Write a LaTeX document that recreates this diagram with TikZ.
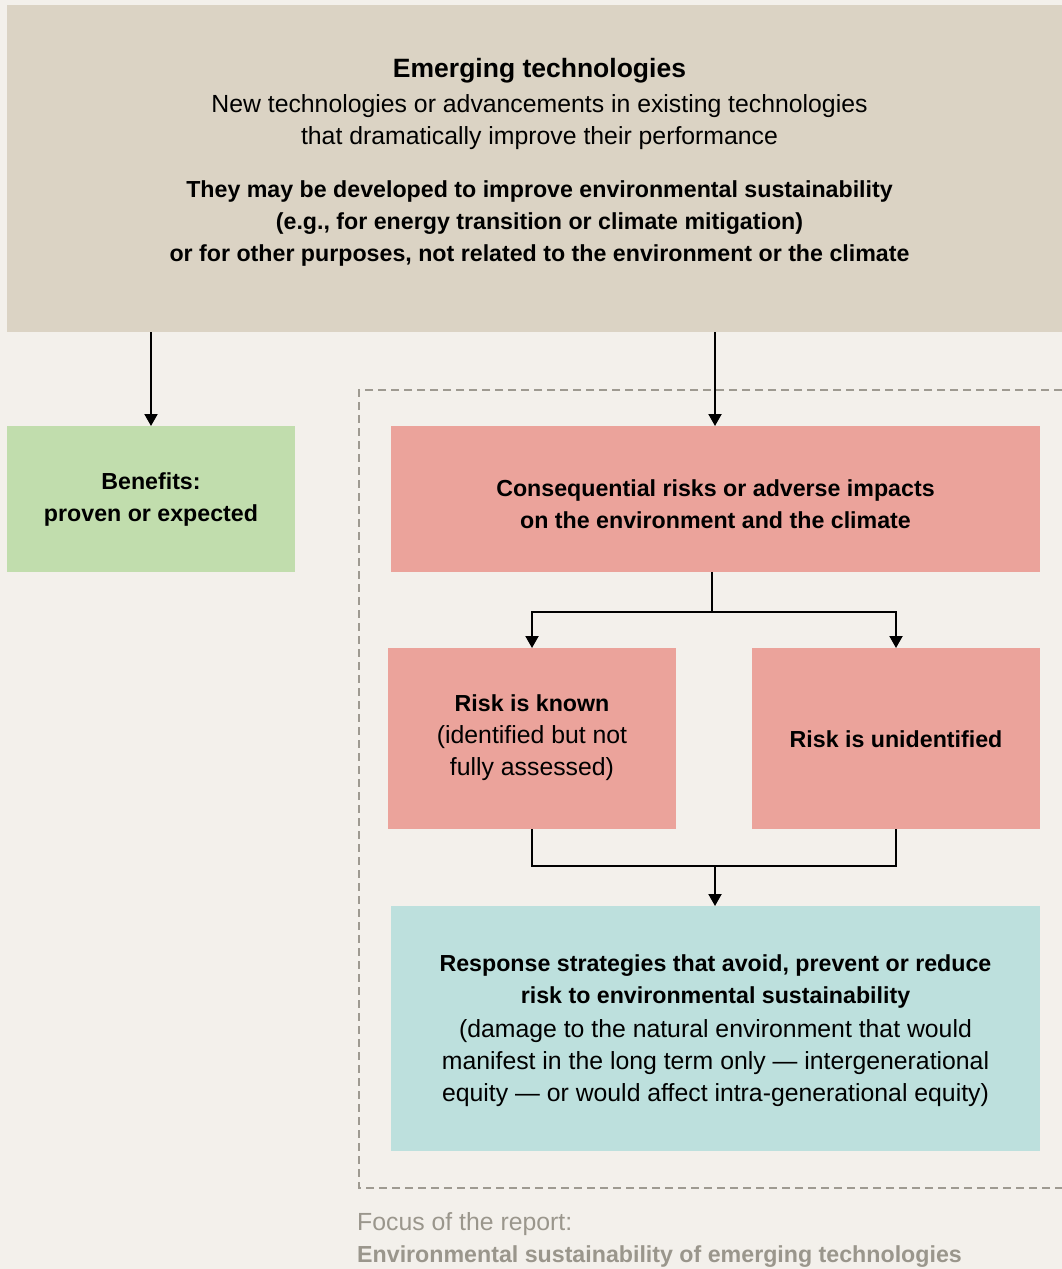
\documentclass[tikz,border=0pt]{standalone}
\usepackage{fontspec}
\setmainfont{Liberation Sans}
\usetikzlibrary{arrows.meta}
\definecolor{bgcol}{HTML}{F3F0EB}
\definecolor{topcol}{HTML}{DBD3C4}
\definecolor{greencol}{HTML}{C1DDAD}
\definecolor{pinkcol}{HTML}{EBA39B}
\definecolor{tealcol}{HTML}{BDE0DD}
\definecolor{dashcol}{HTML}{9E9A91}
\definecolor{notecol}{HTML}{9A968C}
% regular and emphasised text weights
\newcommand\regtext{\fontsize{24.8}{32}\selectfont\mdseries}
\newcommand\emtext{\fontsize{23.2}{32}\selectfont\bfseries}
\tikzset{
  panel/.style={inner sep=0pt, outer sep=0pt},
  txt/.style={align=center, font=\regtext, inner sep=0pt},
  link/.style={line width=2pt, -{Triangle[width=13pt,length=12pt]}},
  joint/.style={line width=2pt},
}
\begin{document}
\begin{tikzpicture}[x=1pt,y=-1pt]
\useasboundingbox (0,0) rectangle (1062,1269);
\fill[bgcol] (0,0) rectangle (1062,1269);

% boxes
\fill[topcol] (7,5) rectangle (1072,332);
\node[panel, minimum width=1065pt, minimum height=327pt] (top) at (539.5,168.5) {};
\fill[greencol] (7,426) rectangle (295,572);
\node[panel, minimum width=288pt, minimum height=146pt] (ben) at (151,499) {};
\fill[pinkcol] (391,426) rectangle (1040,572);
\node[panel, minimum width=649pt, minimum height=146pt] (cons) at (715.5,499) {};
\fill[pinkcol] (388,648) rectangle (676,829);
\node[panel, minimum width=288pt, minimum height=181pt] (known) at (532,738.5) {};
\fill[pinkcol] (752,648) rectangle (1040,829);
\node[panel, minimum width=288pt, minimum height=181pt] (unid) at (896,738.5) {};
\fill[tealcol] (391,906) rectangle (1040,1151);
\node[panel, minimum width=649pt, minimum height=245pt] (resp) at (715.5,1028.5) {};

% focus frame
\draw[dashcol, line width=2.2pt, dash pattern=on 8pt off 5pt] (1075,390) -- (359,390) -- (359,1188) -- (1075,1188);

% texts
\node[txt] (topTxt) at (539.5,162.5) {{\fontsize{26.5}{32}\selectfont\bfseries Emerging technologies}\\[3pt]
New technologies or advancements in existing technologies\\
that dramatically improve their performance\\[21pt]
\emtext They may be developed to improve environmental sustainability\\
\emtext (e.g., for energy transition or climate mitigation)\\
\emtext or for other purposes, not related to the environment or the climate};
\node[txt, font=\emtext] (benTxt) at (ben) {Benefits:\\proven or expected};
\node[txt, font=\emtext] (consTxt) at (715.5,504) {Consequential risks or adverse impacts\\on the environment and the climate};
\node[txt] (knownTxt) at (532,738) {\emtext Risk is known\\(identified but not\\fully assessed)};
\node[txt, font=\emtext] (unidTxt) at (896,739) {Risk is unidentified};
\node[txt] (respTxt) at (715.5,1031) {\emtext Response strategies that avoid, prevent or reduce\\
\emtext risk to environmental sustainability\\[2pt]
(damage to the natural environment that would\\
manifest in the long term only --- intergenerational\\
equity --- or would affect intra-generational equity)};
\node[anchor=west, align=left, inner sep=0pt, text=notecol, font=\regtext] (note) at (357,1240) {Focus of the report:\\\emtext Environmental sustainability of emerging technologies};

% connectors
\draw[link] (top.south -| ben.north) -- (ben.north);
\draw[link] (top.south -| 715,0) -- (cons.north -| 715,0);
\coordinate (splitA) at (712,612);
\draw[joint] (cons.south -| splitA) -- (splitA);
\draw[link] (splitA) -| (known.north);
\draw[link] (splitA) -| (unid.north);
\coordinate (mergeA) at (715,866);
\draw[joint] (known.south) |- (unid.south |- mergeA) -- (unid.south);
\draw[link] (mergeA) -- (resp.north -| mergeA);
\end{tikzpicture}
\end{document}
